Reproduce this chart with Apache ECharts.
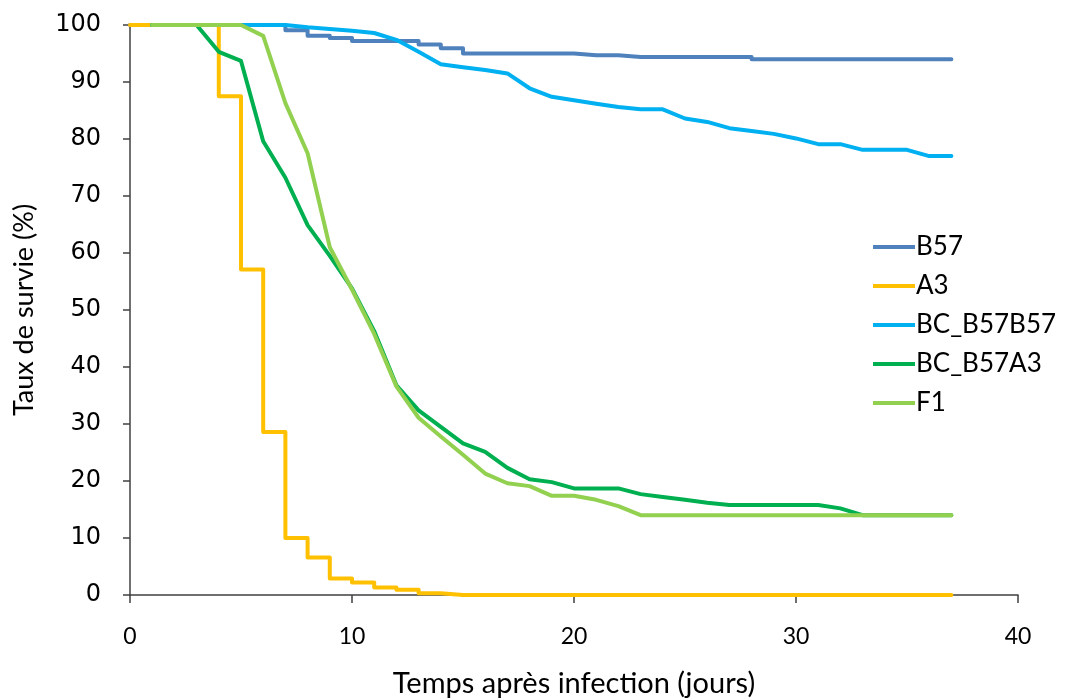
<!DOCTYPE html>
<html>
<head>
<meta charset="utf-8">
<script src="https://cdn.jsdelivr.net/npm/echarts@6/dist/echarts.min.js"></script>
<style>html,body{margin:0;padding:0;background:#fff;overflow:hidden}#c{width:1066px;height:700px}</style>
</head>
<body>
<div id="c"></div>
<script>
// Days (x values)
const daysFrom0 = Array.from({length: 38}, (_, i) => i);       // 0..37
const daysFrom1 = Array.from({length: 37}, (_, i) => i + 1);   // 1..37

// Survival (%) per day
const B57 = [100,100,100,100,100,100,100,99.1,98.1,97.7,97.2,97.2,97.2,96.6,95.9,95.0,95.0,95.0,95.0,95.0,94.7,94.7,94.4,94.4,94.4,94.4,94.4,94.4,94.0,94.0,94.0,94.0,94.0,94.0,94.0,94.0,94.0,94.0];
const A3 = [100,100,100,100,87.5,57.1,28.6,10.0,6.6,2.9,2.2,1.3,0.9,0.3,0,0,0,0,0,0,0,0,0,0,0,0,0,0,0,0,0,0,0,0,0,0,0,0];
const BC_B57B57 = [100,100,100,100,100,100,100,99.6,99.3,99.0,98.6,97.4,95.3,93.1,92.6,92.1,91.5,88.9,87.4,86.8,86.2,85.6,85.2,85.2,83.6,83.0,81.9,81.4,80.9,80.1,79.1,79.1,78.1,78.1,78.1,77.0,77.0];
const BC_B57A3 = [100,100,100,95.3,93.7,79.6,73.2,64.9,59.5,53.8,46.3,36.8,32.4,29.5,26.6,25.1,22.3,20.3,19.8,18.7,18.7,18.7,17.7,17.2,16.7,16.2,15.8,15.8,15.8,15.8,15.8,15.2,14.0,14.0,14.0,14.0,14.0];
const F1 = [100,100,100,100,100,98.1,86.3,77.5,61.0,53.6,45.8,36.6,31.1,27.8,24.6,21.3,19.6,19.1,17.4,17.4,16.7,15.6,14.0,14.0,14.0,14.0,14.0,14.0,14.0,14.0,14.0,14.0,14.0,14.0,14.0,14.0,14.0];

const seriesNames = ['B57','A3','BC_B57B57','BC_B57A3','F1'];
const seriesColors = ['#4F81BD','#FFC000','#00B0F0','#00B050','#92D050'];

const xTitle = 'Temps après infection (jours)';
const yTitle = 'Taux de survie (%)';

function pairs(xs, ys){ return xs.map((x,i)=>[x, ys[i]]); }

const chart = echarts.init(document.getElementById('c'), null, {renderer:'canvas'});
const font = 'Lato, "Liberation Sans", sans-serif';

chart.setOption({
  animation: false,
  backgroundColor: '#fff',
  grid: {left: 130, right: 48, top: 25, bottom: 105, containLabel: false, outerBoundsMode: 'none'},
  legend: {
    orient: 'vertical', left: 868, top: 229,
    itemWidth: 42, itemHeight: 4, itemGap: 13,
    icon: 'rect',
    textStyle: {fontFamily: font, fontSize: 26, color: '#000', padding: [0,0,0,-4]},
    data: seriesNames
  },
  xAxis: {
    type: 'value', min: 0, max: 40, interval: 10,
    name: xTitle, nameLocation: 'middle', nameGap: 74,
    nameTextStyle: {fontFamily: font, fontSize: 29, color: '#000'},
    axisLine: {show: true, lineStyle: {color: '#404040', width: 1.5}},
    axisTick: {show: true, inside: false, length: 8, lineStyle: {color: '#404040', width: 1.5}},
    axisLabel: {fontFamily: font, fontSize: 23, color: '#000', margin: 30},
    splitLine: {show: false}
  },
  yAxis: {
    type: 'value', min: 0, max: 100, interval: 10,
    name: yTitle, nameLocation: 'middle', nameGap: 92, nameRotate: 90,
    nameTextStyle: {fontFamily: font, fontSize: 27, color: '#000'},
    axisLine: {show: true, lineStyle: {color: '#404040', width: 1.5}},
    axisTick: {show: true, inside: false, length: 7, lineStyle: {color: '#404040', width: 1.5}},
    axisLabel: {fontFamily: '"DejaVu Sans", sans-serif', fontSize: 24, color: '#000', margin: 29},
    splitLine: {show: false}
  },
  series: [
    {name: 'B57', type: 'line', step: 'end', data: pairs(daysFrom0, B57)},
    {name: 'A3', type: 'line', step: 'end', data: pairs(daysFrom0, A3)},
    {name: 'BC_B57B57', type: 'line', data: pairs(daysFrom1, BC_B57B57)},
    {name: 'BC_B57A3', type: 'line', data: pairs(daysFrom1, BC_B57A3)},
    {name: 'F1', type: 'line', data: pairs(daysFrom1, F1)}
  ].map((s,i)=>Object.assign(s, {
    showSymbol: false, symbol: 'none',
    color: seriesColors[i],
    lineStyle: {color: seriesColors[i], width: 4, cap: 'round', join: 'round'},
    itemStyle: {color: seriesColors[i]}
  }))
});
</script>
</body>
</html>
